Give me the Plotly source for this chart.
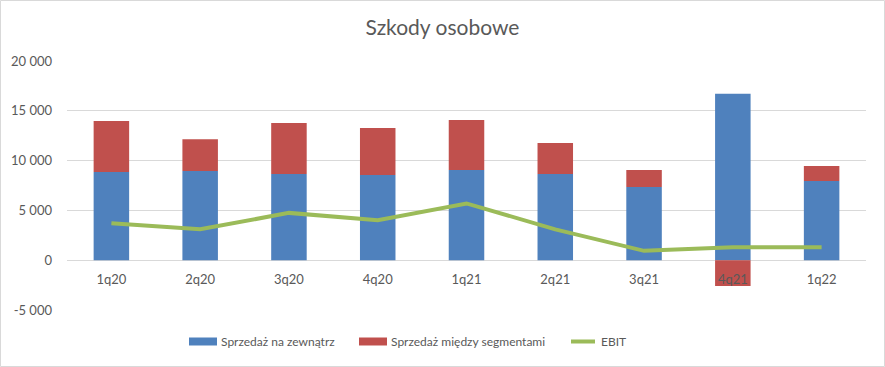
import plotly.graph_objects as go

categories = ["1q20", "2q20", "3q20", "4q20", "1q21", "2q21", "3q21", "4q21", "1q22"]
sprzedaz_zewn = [8850, 8950, 8650, 8550, 9050, 8650, 7340, 16700, 7950]
sprzedaz_seg = [5120, 3200, 5120, 4720, 5020, 3110, 1710, -2580, 1500]
ebit = [3700, 3100, 4750, 4020, 5700, 3100, 940, 1310, 1310]
ytick_vals = [-5000, 0, 5000, 10000, 15000, 20000]
ytick_text = ["-5 000", "0", "5 000", "10 000", "15 000", "20 000"]
series_names = ["Sprzedaż na zewnątrz", "Sprzedaż między segmentami", "EBIT"]
series_colors = ["#4F81BD", "#C0504D", "#9BBB59"]

W, H = 885, 367
ML, MR, MT, MB = 67, 19, 61, 57
font_family = "Lato, Open Sans, sans-serif"
grey_txt = "#595959"
pw = W - ML - MR
ph = H - MT - MB


def px(x):
    return (x - ML) / pw


def py(y):
    return (H - MB - y) / ph


fig = go.Figure()
fig.add_trace(go.Bar(x=categories, y=sprzedaz_zewn, name=series_names[0],
                     marker=dict(color=series_colors[0], line=dict(width=0))))
fig.add_trace(go.Bar(x=categories, y=sprzedaz_seg, name=series_names[1],
                     marker=dict(color=series_colors[1], line=dict(width=0))))
fig.add_trace(go.Scatter(x=categories, y=ebit, name=series_names[2], mode="lines",
                         line=dict(color=series_colors[2], width=4)))

# manual legend (Excel-like wide markers)
legend_x = [189, 359, 569]
shapes = [dict(type="rect", xref="paper", yref="paper",
               x0=px(0.5), x1=px(W - 0.5), y0=py(H - 0.5), y1=py(0.5),
               line=dict(color="#D9D9D9", width=1), fillcolor="rgba(0,0,0,0)", layer="below")]
annotations = []
for i, (nm, col) in enumerate(zip(series_names, series_colors)):
    x0 = legend_x[i]
    if i < 2:
        shapes.append(dict(type="rect", xref="paper", yref="paper",
                           x0=px(x0), x1=px(x0 + 28), y0=py(345.5), y1=py(337.5),
                           fillcolor=col, line=dict(width=0)))
    else:
        shapes.append(dict(type="line", xref="paper", yref="paper",
                           x0=px(x0 + 2), x1=px(x0 + 26), y0=py(341.5), y1=py(341.5),
                           line=dict(color=col, width=4)))
    annotations.append(dict(text=nm, xref="paper", yref="paper", x=px(x0 + 30), y=py(341.5),
                            xanchor="left", yanchor="middle", showarrow=False,
                            font=dict(size=12, color=grey_txt, family=font_family)))

fig.update_layout(
    width=W, height=H,
    margin=dict(l=ML, r=MR, t=MT, b=MB),
    barmode="relative",
    bargap=0.6,
    plot_bgcolor="white",
    paper_bgcolor="white",
    showlegend=False,
    font=dict(family=font_family, size=12, color=grey_txt),
    title=dict(text="Szkody osobowe", x=0.5, xanchor="center", y=1 - 28 / H, yanchor="middle",
               font=dict(size=21, color=grey_txt, family=font_family)),
    xaxis=dict(anchor="free", position=0.2, showgrid=False, showline=False, ticks="",
               tickfont=dict(size=13, color=grey_txt), ticklabelstandoff=10, zeroline=False),
    yaxis=dict(range=[-5000, 20000], tickvals=ytick_vals, ticktext=ytick_text,
               showgrid=True, gridcolor="#D9D9D9", gridwidth=1, zeroline=True,
               zerolinecolor="#D9D9D9", zerolinewidth=1, showline=False, ticks="",
               tickfont=dict(size=13, color=grey_txt), ticklabelstandoff=14),
    shapes=shapes,
    annotations=annotations,
)

div = fig.to_html(full_html=False, include_plotlyjs=True, config={"displayModeBar": False})
html = ("<!DOCTYPE html><html><head><meta charset='utf-8'>"
        "<style>html,body{margin:0;padding:0;overflow:hidden;background:white;}</style>"
        "</head><body>" + div + "</body></html>")
with open("out.html", "w", encoding="utf-8") as f:
    f.write(html)
